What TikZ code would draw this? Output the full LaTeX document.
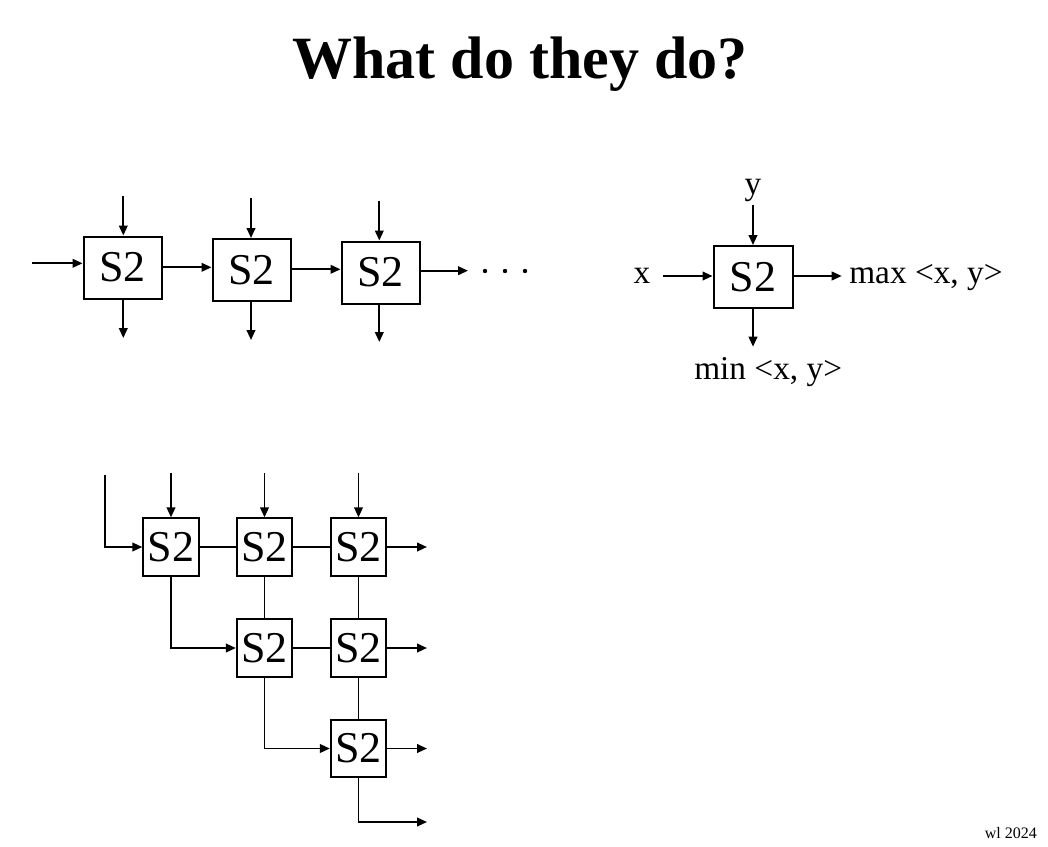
\documentclass[tikz,border=0pt]{standalone}
\usepackage{fontspec}
\setmainfont{Liberation Serif}
\usetikzlibrary{arrows.meta}
\begin{document}
\begin{tikzpicture}[x=0.75pt,y=-0.75pt,
  box/.style={draw,line width=1.5pt,inner sep=0pt,font=\fontsize{33}{33}\selectfont},
  chainbox/.style={box,minimum width=58.5pt,minimum height=46.5pt},
  gridbox/.style={box,minimum width=41.5pt,minimum height=43pt},
  wire/.style={line width=1.4pt},
  arr/.style={wire,-{Triangle[length=7.5pt,width=6.5pt]}},
  lbl/.style={font=\fontsize{25}{25}\selectfont,inner sep=0pt}]
\useasboundingbox (0,0) rectangle (1048,846);

% heading
\node[font=\fontsize{45}{45}\selectfont\bfseries,anchor=base] (title) at (520,78) {What do they do?};

% ---- chain of comparators ----
\node[chainbox] (c1) at (122.5,267.5) {S2};
\node[chainbox] (c2) at (251.5,270) {S2};
\node[chainbox] (c3) at (380.5,272.5) {S2};
\coordinate (cin) at (32,263.3);
\coordinate (h12) at (0,267.3);
\coordinate (h23) at (0,269.3);
\coordinate (cout) at (468,270.7);
\draw[arr] (cin) -- (c1.west |- cin);
\draw[arr] (c1.east |- h12) -- (c2.west |- h12);
\draw[arr] (c2.east |- h23) -- (c3.west |- h23);
\draw[arr] (c3.east |- cout) -- (cout);
\coordinate (t1) at (123.3,196);
\coordinate (t2) at (251,198);
\coordinate (t3) at (379.3,200.7);
\coordinate (b1) at (123.3,338);
\coordinate (b2) at (251,340);
\coordinate (b3) at (379.3,342);
\draw[arr] (t1) -- (c1.north -| t1);
\draw[arr] (t2) -- (c2.north -| t2);
\draw[arr] (t3) -- (c3.north -| t3);
\draw[arr] (c1.south -| b1) -- (b1);
\draw[arr] (c2.south -| b2) -- (b2);
\draw[arr] (c3.south -| b3) -- (b3);
\foreach \dx in {485,505,525} \fill (\dx,271) circle (2.2);

% ---- single comparator ----
\node[chainbox,minimum width=59.25pt] (s) at (753,277) {S2};
\node[lbl,anchor=base] (ly) at (753,194) {y};
\node[lbl,anchor=base] (lx) at (642,283) {x};
\node[lbl,anchor=base west] (mx) at (849,283) {max <x, y>};
\node[lbl,anchor=base west] (mn) at (694,379) {min <x, y>};
\coordinate (yin) at (753,205);
\coordinate (xin) at (663,276);
\coordinate (maxout) at (841.7,276);
\coordinate (minout) at (753,346.7);
\draw[arr] (yin) -- (s.north);
\draw[arr] (xin) -- (s.west |- xin);
\draw[arr] (s.east |- maxout) -- (maxout);
\draw[arr] (s.south) -- (minout);

% ---- triangular network ----
\node[gridbox] (g11) at (171,547) {S2};
\node[gridbox] (g12) at (264.5,547) {S2};
\node[gridbox] (g13) at (358.5,547) {S2};
\node[gridbox] (g22) at (264.5,648) {S2};
\node[gridbox] (g23) at (358.5,648) {S2};
\node[gridbox] (g33) at (358.5,748.5) {S2};
\coordinate (lin) at (105,475);
\coordinate (u1) at (171,473);
\coordinate (u2) at (264.5,473);
\coordinate (u3) at (358.5,473);
\coordinate (r1) at (427,547);
\coordinate (r2) at (427,648);
\coordinate (r3) at (427,748.5);
\coordinate (r4) at (427,822);
\draw[arr] (lin) |- (g11.west);
\draw[arr] (u1) -- (g11.north);
\draw[arr] (u2) -- (g12.north);
\draw[arr] (u3) -- (g13.north);
\draw[wire] (g11) -- (g12);
\draw[wire] (g12) -- (g13);
\draw[wire] (g22) -- (g23);
\draw[wire] (g12) -- (g22);
\draw[wire] (g13) -- (g23);
\draw[wire] (g23) -- (g33);
\draw[arr] (g11.south) |- (g22.west);
\draw[arr] (g22.south) |- (g33.west);
\draw[arr] (g13.east) -- (r1);
\draw[arr] (g23.east) -- (r2);
\draw[arr] (g33.east) -- (r3);
\draw[arr] (g33.south) |- (r4);

% footer
\node[font=\fontsize{12}{12}\selectfont,anchor=base east,inner sep=0pt] (foot) at (1037,838) {wl 2024};
\end{tikzpicture}
\end{document}
